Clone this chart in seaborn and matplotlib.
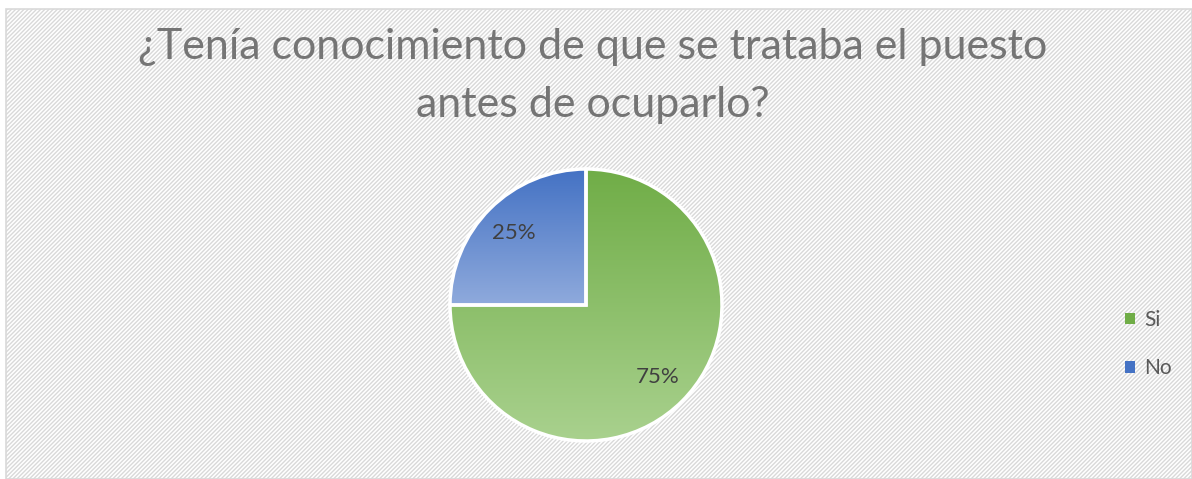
import numpy as np
import matplotlib
matplotlib.use("Agg")
from matplotlib import pyplot as plt
from matplotlib.colors import LinearSegmentedColormap
from matplotlib.patches import Rectangle
import seaborn as sns

# chart data
labels = ["Si", "No"]
values = [75, 25]
title_lines = ["¿Tenía conocimiento de que se trataba el puesto",
               "antes de ocuparlo?"]

# gradient colours (top, bottom) for each slice
top_colors = ["#70AD47", "#4472C4"]
bottom_colors = ["#A9D18E", "#8FAADC"]

sns.set_theme(style="white")
plt.rcParams["font.family"] = ["Lato", "DejaVu Sans"]
plt.rcParams["hatch.color"] = "#e4e4e4"
plt.rcParams["hatch.linewidth"] = 1.0

W, H = 1192, 479
fig = plt.figure(figsize=(W / 100, H / 100), dpi=100)
fig.patch.set_facecolor("white")

# hatched chart area with a thin grey border
bg = Rectangle((6 / W, 0), 1 - 6 / W, 1 - 9 / H, transform=fig.transFigure,
               facecolor="white", edgecolor="#d9d9d9", hatch="////////",
               linewidth=1.2, zorder=-10)
fig.patches.append(bg)

# title, one text per line (baselines)
for line, base in zip(title_lines, [59, 117]):
    fig.text(593 / W, 1 - base / H, line, ha="center", va="baseline",
             fontsize=31, color="#757575")

# pie axes
cx, cy, r = 586, 305, 136
ax = fig.add_axes([(cx - r) / W, 1 - (cy + r) / H, 2 * r / W, 2 * r / H])
ax.patch.set_alpha(0)

wedges, texts, autotexts = ax.pie(
    values, startangle=90, counterclock=False, radius=1,
    colors=top_colors, autopct="%1.0f%%", pctdistance=0.75,
    wedgeprops=dict(edgecolor="white", linewidth=2.5),
    textprops=dict(fontsize=16, color="#404040"))

# vertical gradient fill for each slice
for w, c_top, c_bot in zip(wedges, top_colors, bottom_colors):
    bb = w.get_path().get_extents(w.get_patch_transform())
    cmap = LinearSegmentedColormap.from_list("g", [c_bot, c_top])
    grad = np.linspace(0, 1, 256).reshape(-1, 1)
    im = ax.imshow(grad, cmap=cmap, origin="lower", aspect="auto",
                   extent=[bb.x0, bb.x1, bb.y0, bb.y1], zorder=1)
    im.set_clip_path(w)
    w.set_facecolor("none")
    w.set_zorder(2)
for t in autotexts:
    t.set_zorder(3)
ax.set_xlim(-1, 1)
ax.set_ylim(-1, 1)
ax.set_aspect("equal")
ax.axis("off")

# legend
handles = [Rectangle((0, 0), 1, 1, fc=c, ec="none") for c in top_colors]
leg = fig.legend(handles, labels, loc="center left",
                 bbox_to_anchor=(1106 / W, 1 - 344 / H), frameon=False,
                 fontsize=15, labelcolor="#595959", handlelength=0.5,
                 handleheight=0.5, handletextpad=0.45, labelspacing=1.35)

plt.savefig("out.png", dpi=100)
